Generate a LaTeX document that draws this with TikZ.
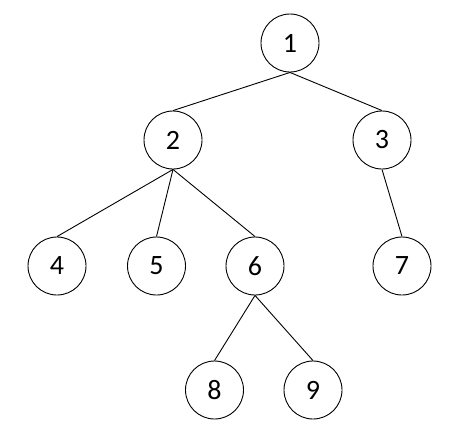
\documentclass[tikz,border=0pt]{standalone}
\usepackage{fontspec}
\setmainfont{Carlito}
\begin{document}
\begin{tikzpicture}[x=1pt,y=-1pt,
  tnode/.style={circle,draw=black,line width=0.9pt,minimum size=58pt,inner sep=0pt,font=\fontsize{28}{32}\selectfont},
  edge/.style={line width=0.9pt}]
\useasboundingbox (0,0) rectangle (465,432);
\node[tnode] (n1) at (290,43) {1};
\node[tnode] (n2) at (173,140) {2};
\node[tnode] (n3) at (382,140) {3};
\node[tnode] (n4) at (57,266) {4};
\node[tnode] (n5) at (156.5,266) {5};
\node[tnode] (n6) at (255,266) {6};
\node[tnode] (n7) at (402,266) {7};
\node[tnode] (n8) at (214.5,390) {8};
\node[tnode] (n9) at (313,390) {9};
\draw[edge] (n1.south) -- (n2.north);
\draw[edge] (n1.south) -- (n3.north);
\draw[edge] (n2.south) -- (n4.north);
\draw[edge] (n2.south) -- (n5.north);
\draw[edge] (n2.south) -- (n6.north);
\draw[edge] (n3.south) -- (n7.north);
\draw[edge] (n6.south) -- (n8.north);
\draw[edge] (n6.south) -- (n9.north);
\end{tikzpicture}
\end{document}
